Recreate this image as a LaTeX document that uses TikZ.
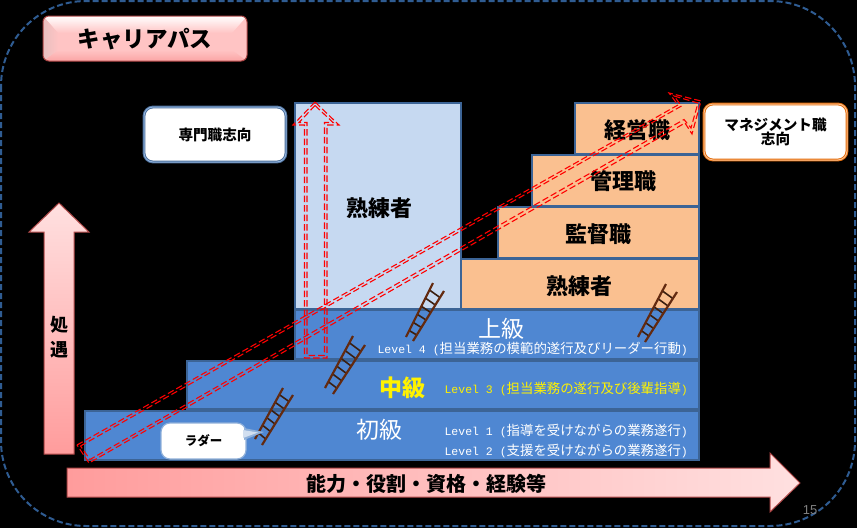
\documentclass[tikz,border=0pt]{standalone}
\usepackage{fontspec}
\setmainfont{Noto Sans CJK JP}
\newfontfamily\lat{Liberation Mono}
\newfontfamily\pagenum{Liberation Sans}
\usetikzlibrary{calc}
\definecolor{frameblue}{HTML}{2F5C92}
\definecolor{barblue}{HTML}{4F87D2}
\definecolor{barline}{HTML}{3C6496}
\definecolor{paleblue}{HTML}{C6D9F1}
\definecolor{peach}{HTML}{FAC090}
\definecolor{arrowline}{HTML}{B04848}
\definecolor{railbrown}{HTML}{632A10}
\definecolor{rungbrown}{HTML}{3A1F10}
\definecolor{titlepink}{HTML}{FFC4C4}
\definecolor{titleside}{HTML}{E8BFBF}
\definecolor{titlelow}{HTML}{FBA5A5}
\definecolor{armstrong}{HTML}{FF9C9C}
\definecolor{armweak}{HTML}{FFE0E0}
\definecolor{mgmtline}{HTML}{E46C0A}
\definecolor{bubbleline}{HTML}{4A6E9A}
\definecolor{softline}{HTML}{8FB0DA}
\newcommand\fs[1]{\fontsize{#1}{#1}\selectfont}
\newcommand\bx[7]{%
  \pgfmathsetmacro\bxw{#4-#2}\pgfmathsetmacro\bxh{#5-#3}%
  \node[#6,minimum width=\bxw pt,minimum height=\bxh pt] (#1) at ({(#2+#4)/2},{(#3+#5)/2}) {#7};}
\newcommand\ladderdraw[5]{%
  \coordinate (#1a) at #2; \coordinate (#1b) at #3;
  \coordinate (#1c) at #4; \coordinate (#1d) at #5;
  \foreach \t in {.12,.27,.42,.57,.72,.87}
    \draw[rungbrown,line width=1.6pt] ($(#1a)!\t!(#1b)$) -- ($(#1c)!\t!(#1d)$);
  \draw[railbrown,line width=2.2pt] (#1a) -- (#1b);
  \draw[railbrown,line width=2.2pt] (#1c) -- (#1d);}
\tikzset{
  cell/.style={draw=barline,line width=1.6pt,inner sep=0pt,text=black},
  palecell/.style={cell,fill=paleblue},
  peachcell/.style={cell,fill=peach},
  barcell/.style={cell,fill=barblue},
  bigword/.style={inner sep=0pt,font=\fs{22}\bfseries},
  levelword/.style={inner sep=0pt,anchor=east,font=\fs{13.4}},
  bubble/.style={rounded corners=9pt,fill=white,inner sep=0pt,align=center,font=\fs{14.6}\bfseries},
  dashline/.style={red,line width=1.1pt,dash pattern=on 6.5pt off 3pt,line join=miter},
  bigarrow/.style={draw=arrowline,line width=1pt},
}
\newcommand\lv[1]{{\lat\fs{11.5}#1}}
\begin{document}
\begin{tikzpicture}[x=1pt,y=-1pt]
\useasboundingbox (0,0) rectangle (857,528);
\fill[black] (0,0) rectangle (857,528);
% outer frame
\draw[frameblue,line width=2pt,dash pattern=on 6pt off 3pt,rounded corners=85pt] (1,1) rectangle (855,526);
% title plate
\begin{scope}
  \clip[rounded corners=6pt] (43,16) rectangle (247,61);
  \fill[titlepink] (43,16) rectangle (247,61);
  \shade[top color=white,bottom color=titlepink] (43,16) -- (247,16) -- (232,33) -- (58,33) -- cycle;
  \shade[top color=titlepink,bottom color=titlelow] (58,50) -- (232,50) -- (247,61) -- (43,61) -- cycle;
  \shade[left color=titleside,right color=titlepink] (43,16) -- (58,33) -- (58,50) -- (43,61) -- cycle;
\end{scope}
\draw[arrowline,line width=1pt,rounded corners=6pt] (43,16) rectangle (247,61);
\node[inner sep=0pt,font=\fs{22.5}\bfseries] (title) at (145,39) {キャリアパス};
% staircase
\bx{tallskill}{295}{103}{461}{309}{palecell}{}
\node[bigword] (tallskilltext) at (379,208) {熟練者};
\bx{exec}{575}{103}{699}{154}{peachcell}{}
\node[bigword] (exectext) at (637,130) {経営職};
\bx{manager}{532}{155}{699}{206}{peachcell}{}
\node[bigword] (managertext) at (623,181) {管理職};
\bx{super}{498}{207}{699}{258}{peachcell}{}
\node[bigword] (supertext) at (598,234) {監督職};
\bx{skill}{461}{259}{699}{309}{peachcell}{}
\node[bigword] (skilltext) at (579,286) {熟練者};
\bx{senior}{295}{310}{699}{359}{barcell}{}
\bx{middle}{187}{361}{699}{409}{barcell}{}
\bx{junior}{85}{411}{699}{460}{barcell}{}
\node[inner sep=0pt,text=white,font=\fs{23}] (seniorname) at (501,329) {上級};
\node[inner sep=0pt,text=yellow,font=\fs{23}\bfseries] (middlename) at (402,388) {中級};
\node[inner sep=0pt,text=white,font=\fs{23}] (juniorname) at (379,430) {初級};
\node[levelword,text=white] (l4) at (688,349) {\lv{Level 4 (}担当業務の模範的遂行及びリーダー行動\lv{)}};
\node[levelword,text=yellow] (l3) at (688,389) {\lv{Level 3 (}担当業務の遂行及び後輩指導\lv{)}};
\node[levelword,text=white] (l1) at (688,431) {\lv{Level 1 (}指導を受けながらの業務遂行\lv{)}};
\node[levelword,text=white] (l2) at (688,451) {\lv{Level 2 (}支援を受けながらの業務遂行\lv{)}};
% axes
\draw[bigarrow,bottom color=armstrong,top color=armweak]
  (59,203) -- (89,232) -- (74,232) -- (74,454) -- (44,454) -- (44,232) -- (29,232) -- cycle;
\node[inner sep=0pt,align=center,font=\fs{18}\bfseries] (yaxis) at (59,337) {処\\[7pt]遇};
\draw[bigarrow,left color=armstrong,right color=armweak]
  (67,468) -- (770,468) -- (770,453) -- (800,483) -- (770,512) -- (770,497) -- (67,497) -- cycle;
\node[inner sep=0pt,font=\fs{20}\bfseries] (xaxis) at (426,484) {能力・役割・資格・経験等};
% ladders
\ladderdraw{la}{(255,439)}{(283,388)}{(262,445)}{(293,395)}
\ladderdraw{lb}{(325,388)}{(353,336)}{(333,394)}{(365,345)}
\ladderdraw{lc}{(406,337)}{(433,283)}{(413,341)}{(444,291)}
\ladderdraw{ld}{(638,337)}{(666,284)}{(645,342)}{(677,292)}
% red dashed hollow arrows
\draw[dashline] (315,102) -- (293,125) -- (304.5,125) -- (304.5,358) -- (327,358) -- (327,125) -- (339,125) -- cycle;
\draw[dashline] (315,105.5) -- (299,122.5) -- (307,122.5) -- (307,355.5) -- (324.5,355.5) -- (324.5,122.5) -- (333,122.5) -- cycle;
\draw[dashline] (77,445) -- (678,105) -- (669,93) -- (701,101) -- (692,134) -- (685,123) -- (89,463) -- cycle;
\draw[dashline] (80.5,446) -- (681.5,106) -- (674,96) -- (698,103) -- (691,128) -- (684,119.5) -- (90,459.5) -- cycle;
% callouts
\bx{expert}{144}{107}{286}{162}{bubble,draw=bubbleline,line width=.9pt,double=softline,double distance=1pt}{専門職志向}
\bx{mgmt}{704}{104}{847}{160}{bubble,draw=mgmtline,line width=.9pt,double=peach,double distance=1pt}{マネジメント職\\志向}
\coordinate (laddertip) at (264,432);
\bx{laddercall}{161}{423}{246}{459}{bubble,draw=softline,line width=1.2pt,font=\fs{12.5}\bfseries}{ラダー}
\fill[softline] (244,428) -- (laddertip) -- (244,440) -- cycle;
\fill[white!60!softline] (243,430) -- (258,432.5) -- (243,438) -- cycle;
\node[inner sep=0pt,text=gray,font=\pagenum\fs{13}] (pageno) at (810,510) {15};
\end{tikzpicture}
\end{document}
